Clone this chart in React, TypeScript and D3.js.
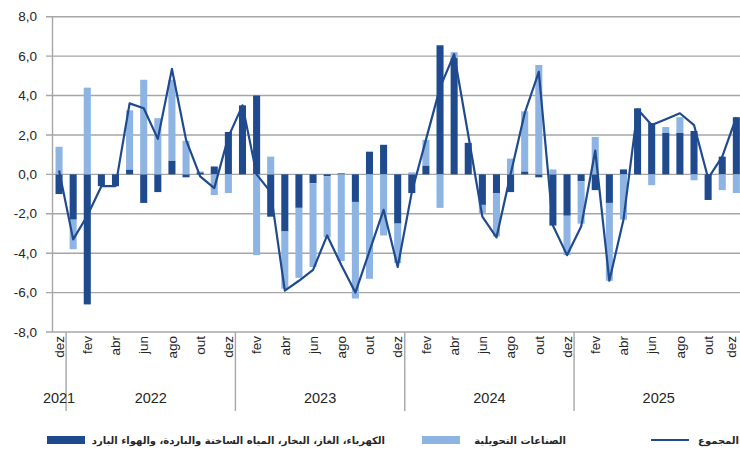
import * as d3 from 'd3';

// monthly contributions, dez 2021 .. dez 2025
const MONTHS = ['jan', 'fev', 'mar', 'abr', 'mai', 'jun', 'jul', 'ago', 'set', 'out', 'nov', 'dez'];
const categories: string[] = ['dez', ...MONTHS, ...MONTHS, ...MONTHS, ...MONTHS];

const electricity = [
  -1.0,
  -2.3, -6.6, -0.6, -0.6, 0.25, -1.45, -0.9, 0.7, -0.15, 0.1, 0.4, 2.15,
  3.5, 4.0, -2.15, -2.9, -1.7, -0.45, -0.1, 0.05, -1.4, 1.15, 1.5, -2.5,
  -0.95, 0.45, 6.55, 5.9, 1.6, -1.55, -0.95, -0.9, 0.15, -0.15, -2.6, -2.1,
  -0.35, -0.8, -1.45, 0.25, 3.35, 2.6, 2.1, 2.1, 2.2, -1.3, 0.9, 2.9,
];
const manufacturing = [
  1.4,
  -1.5, 4.4, 0.0, 0.0, 3.0, 4.8, 2.85, 4.1, 1.7, 0.05, -1.05, -0.95,
  0.0, -4.1, 0.9, -2.9, -3.55, -4.25, -3.1, -4.4, -4.9, -5.3, -3.1, -2.0,
  0.1, 1.3, -1.7, 0.3, 0.0, -0.45, -2.2, 0.8, 3.05, 5.55, 0.25, -2.0,
  -2.15, 1.9, -3.95, -2.3, 0.0, -0.55, 0.3, 0.8, -0.3, 0.0, -0.8, -0.95,
];
const total = [
  0.2,
  -3.3, -2.1, -0.6, -0.6, 3.6, 3.35, 1.8, 5.35, 1.75, -0.1, -0.7, 1.9,
  3.5, 0.0, -0.9, -5.9, -5.4, -4.85, -3.1, -4.6, -6.0, -3.9, -1.8, -4.7,
  -0.9, 1.75, 4.4, 6.1, 2.0, -2.15, -3.2, 0.0, 3.1, 5.2, -2.6, -4.1,
  -2.65, 1.2, -5.4, -2.3, 3.3, 2.5, 2.8, 3.1, 2.5, -0.2, 0.9, 2.9,
];

const years = ['2021', '2022', '2023', '2024', '2025'];
const yearStart = [0, 1, 13, 25, 37];
const yTicks = [-8, -6, -4, -2, 0, 2, 4, 6, 8];

const legendLabels = [
  'الكهرباء، الغاز، البخار، المياه الساخنة والباردة، والهواء البارد',
  'الصناعات التحويلية',
  'المجموع',
];

const DARK = '#1f4b8e';
const LIGHT = '#8db4e2';
const GRID = '#a6a6a6';
const INK = '#262626';

const W = 740;
const H = 450;

export default function App() {
  const idx = categories.map((_, i) => String(i));
  const x = d3.scaleBand<string>().domain(idx).range([52, 743.4]).paddingInner(0.5).paddingOuter(0.25);
  const y = d3.scaleLinear().domain([-8, 8]).range([332, 16.7]);
  const step = x.step();
  const bw = x.bandwidth();
  const cx = (i: number) => (x(String(i)) ?? 0) + bw / 2;

  const rows = categories.map((_, i) => ({ i, dark: electricity[i], light: manufacturing[i] }));
  const series = d3.stack<any>().keys(['dark', 'light']).offset(d3.stackOffsetDiverging)(rows);

  const line = d3.line<number>().x((_, i) => cx(i)).y(d => y(d));

  const fmt = (v: number) => v.toFixed(1).replace('.', ',');
  const sep = (i: number) => (x(String(i)) ?? 0) - (step - bw) / 2;

  return (
    <div style={{ position: 'absolute', left: 0, top: 0 }}>
      <svg width={W} height={H} style={{ display: 'block', background: '#fff' }} fontFamily="Liberation Sans, Arial, sans-serif">
        {/* grid */}
        {yTicks.map(t => (
          <g key={t}>
            <line x1={46} x2={W} y1={y(t)} y2={y(t)} stroke={GRID} strokeWidth={1.4} />
            <text x={37} y={y(t)} dy="0.35em" textAnchor="end" fontSize={13.5} fill={INK}>{fmt(t)}</text>
          </g>
        ))}
        <line x1={52.5} x2={52.5} y1={y(8)} y2={y(-8)} stroke={GRID} strokeWidth={1.4} />

        {/* bars */}
        {series.map((s, k) => (
          <g key={s.key} fill={k === 0 ? DARK : LIGHT}>
            {s.map((d, i) => {
              const y0 = y(d[0]);
              const y1 = y(d[1]);
              return <rect key={i} x={x(String(i))} width={bw} y={Math.min(y0, y1)} height={Math.abs(y1 - y0)} />;
            })}
          </g>
        ))}

        {/* total line */}
        <path d={line(total) ?? ''} fill="none" stroke={DARK} strokeWidth={2.2} strokeLinejoin="round" />

        {/* category axis */}
        {categories.map((m, i) =>
          i % 2 === 0 ? (
            <text key={i} transform={`translate(${Math.min(cx(i), 731)},336) rotate(-90)`} dy="0.35em" textAnchor="end" fontSize={13.5} fill={INK}>
              {m}
            </text>
          ) : null
        )}
        {yearStart.slice(1).map(s => (
          <line key={s} x1={sep(s)} x2={sep(s)} y1={332} y2={411} stroke={GRID} strokeWidth={1.4} />
        ))}
        {years.map((yr, k) => {
          const a = yearStart[k];
          const b = k + 1 < yearStart.length ? yearStart[k + 1] - 1 : categories.length - 1;
          return (
            <text key={yr} x={(cx(a) + cx(b)) / 2} y={398} dy="0.35em" textAnchor="middle" fontSize={14.5} fill={INK}>
              {yr}
            </text>
          );
        })}

        {/* legend */}
        <g fontFamily="DejaVu Sans, sans-serif" fontSize={10} fill={INK} fontWeight="bold">
          <rect x={47} y={436} width={38} height={8} fill={DARK} />
          <text x={385} y={440} dy="0.35em" textAnchor="end">{legendLabels[0]}</text>
          <rect x={422} y={436} width={38} height={8} fill={LIGHT} />
          <text x={566} y={440} dy="0.35em" textAnchor="end">{legendLabels[1]}</text>
          <line x1={651} x2={689} y1={440} y2={440} stroke={DARK} strokeWidth={2.2} />
          <text x={739} y={440} dy="0.35em" textAnchor="end">{legendLabels[2]}</text>
        </g>
      </svg>
    </div>
  );
}
